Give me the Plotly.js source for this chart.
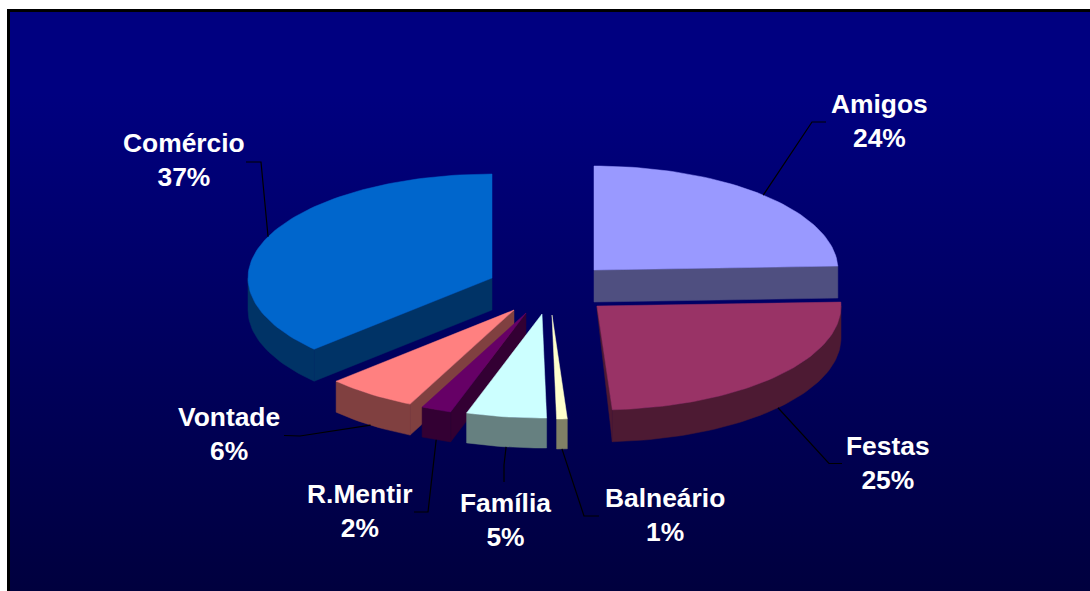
<!DOCTYPE html>
<html>
<head>
<meta charset="utf-8">
<script src="https://cdn.plot.ly/plotly-3.0.1.min.js"></script>
<style>
html,body{margin:0;padding:0;background:#fff;width:1090px;height:591px;overflow:hidden}
#bg{position:absolute;left:7px;top:9px;width:1083px;height:582px;box-sizing:border-box;
border-left:3px solid #000;border-top:3px solid #000;
background:linear-gradient(to bottom,#000080 0%,#000080 14%,#00003e 100%)}
#chart{position:absolute;left:0;top:0;width:1090px;height:591px}
</style>
</head>
<body>
<div id="bg"></div>
<div id="chart"></div>
<script>
// Data (clockwise from 12 o'clock)
const categories = ["Amigos","Festas","Balneário","Família","R.Mentir","Vontade","Comércio"];
const shares = [24.4,24.6,0.7,5.3,2,6,37];
const topColors = ["#9999FF","#993366","#FFFFCC","#CCFFFF","#660066","#FF8080","#0066CC"];
const sideColors = ["#4F4F80","#4D1A33","#808066","#668080","#330033","#804040","#003366"];

// Projection of the tilted, exploded pie (pixel space of the axes)
const radiusX = 244, radiusY = 104;
const depths = [32,32,30,30,30,31,32];
const apexX = [594,597,552,542,526,514,492];
const apexY = [270,306,315,314,313,310,278];
const cutFace = ["end","end",null,null,"start","start","start"];
const apexDrop = [32,3,0,0,30,31,32];
const drawOrder = [6,0,5,4,3,2,1];

// Label centres and leader elbows
const labelX = [879,888,665,505,360,229,184];
const labelY = [121,463,515,520,511,434,160];
const leaderBends = [
  [[812,122],[826,122]],
  [[829,463.5],[842,463.5]],
  [[584,516],[599,516]],
  [[504,465],[504,482]],
  [[428,512],[414,512]],
  [[300,436],[284,435.5]],
  [[261,162],[246,162]]
];

const total = shares.reduce((a,b)=>a+b,0);
const starts = [], ends = [];
shares.reduce((acc,v,i)=>{starts[i]=acc/total*360; ends[i]=(acc+v)/total*360; return acc+v;},0);

function rim(i,deg,dz){
  const r = deg*Math.PI/180;
  return [apexX[i]+radiusX*Math.sin(r), apexY[i]-radiusY*Math.cos(r)+(dz||0)];
}
function arc(i,a0,a1,dz){
  const pts=[], n=Math.max(2,Math.ceil(Math.abs(a1-a0)/1.5));
  for(let k=0;k<=n;k++) pts.push(rim(i,a0+(a1-a0)*k/n,dz));
  return pts;
}
function poly(pts,color){
  const x=pts.map(p=>p[0]), y=pts.map(p=>p[1]);
  x.push(x[0]); y.push(y[0]);
  return {type:"scatter",mode:"lines",x:x,y:y,fill:"toself",fillcolor:color,
    line:{color:color,width:0.5},hoverinfo:"skip",showlegend:false};
}

const traces=[];
drawOrder.forEach(i=>{
  const a0=Math.max(starts[i],90), a1=Math.min(ends[i],270);
  if(cutFace[i]){
    const a = cutFace[i]==="end"?ends[i]:starts[i];
    const c=[apexX[i],apexY[i]];
    traces.push(poly([c,[c[0],c[1]+apexDrop[i]],rim(i,a,depths[i]),rim(i,a,0)],sideColors[i]));
  }
  if(a1>a0) traces.push(poly(arc(i,a0,a1,0).concat(arc(i,a1,a0,depths[i])),sideColors[i]));
  traces.push(poly([[apexX[i],apexY[i]]].concat(arc(i,starts[i],ends[i],0)),topColors[i]));
});

// Leader lines start on the rim at each slice's mid-angle
categories.forEach((c,i)=>{
  const mid=(starts[i]+ends[i])/2;
  const onFront = mid>90 && mid<270;
  const p=[rim(i,mid,onFront?depths[i]:0)].concat(leaderBends[i]);
  traces.push({type:"scatter",mode:"lines",x:p.map(q=>q[0]),y:p.map(q=>q[1]),
    line:{color:"#000000",width:1.2},hoverinfo:"skip",showlegend:false});
});

const annotations=categories.map((c,i)=>({
  x:labelX[i],y:labelY[i],xref:"x",yref:"y",showarrow:false,xanchor:"center",yanchor:"middle",
  text:"<b>"+c+"<br>"+Math.round(shares[i])+"%</b>",
  font:{family:"Liberation Sans, Arial, sans-serif",size:26.4,color:"#FFFFFF"}
}));

const layout={
  width:1090,height:591,margin:{l:0,r:0,t:0,b:0,pad:0},
  paper_bgcolor:"rgba(0,0,0,0)",plot_bgcolor:"rgba(0,0,0,0)",showlegend:false,
  xaxis:{range:[0,1090],visible:false,fixedrange:true},
  yaxis:{range:[591,0],visible:false,fixedrange:true},
  annotations:annotations
};
Plotly.newPlot("chart",traces,layout,{staticPlot:true,displayModeBar:false});
</script>
</body>
</html>
